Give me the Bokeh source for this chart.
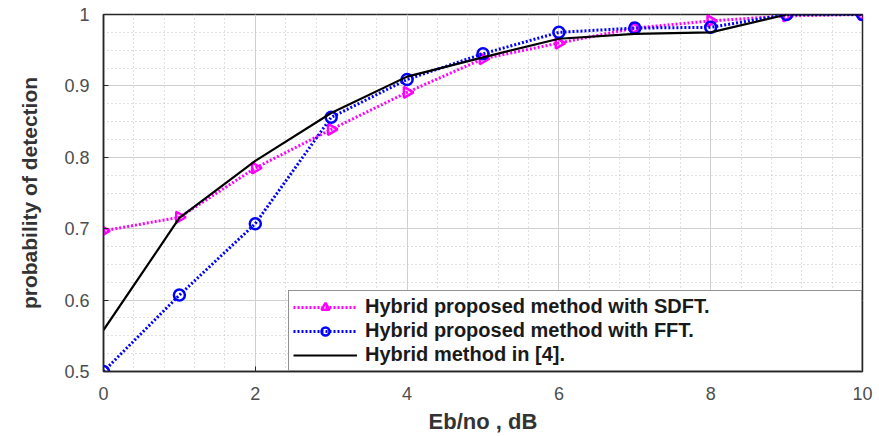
import math
from bokeh.plotting import figure
from bokeh.models import SingleIntervalTicker, CustomJSTickFormatter, Legend, LegendItem, Range1d
from bokeh.embed import file_html
from bokeh.resources import INLINE

ebno = [0, 1, 2, 3, 4, 5, 6, 7, 8, 9, 10]
pd_sdft = [0.697, 0.716, 0.785, 0.839, 0.891, 0.938, 0.960, 0.981, 0.991, 0.998, 1.0]
pd_fft = [0.500, 0.607, 0.707, 0.856, 0.909, 0.945, 0.975, 0.981, 0.982, 1.0, 1.0]
pd_ref = [0.558, 0.715, 0.795, 0.862, 0.913, 0.940, 0.966, 0.973, 0.975, 1.0, 1.0]
labels = ["Hybrid proposed method with SDFT.", "Hybrid proposed method with FFT.", "Hybrid method in [4]."]

p = figure(width=879, height=436, output_backend="svg", toolbar_location=None,
           x_range=Range1d(0, 10), y_range=Range1d(0.5, 1.0),
           min_border_left=103, min_border_right=17, min_border_top=14, min_border_bottom=60)
p.background_fill_color = "white"
p.border_fill_color = "white"
p.outline_line_color = "#262626"
p.outline_line_width = 1.5

xax = p.xaxis[0]
yax = p.yaxis[0]
xax.ticker = SingleIntervalTicker(interval=2, num_minor_ticks=5)
yax.ticker = SingleIntervalTicker(interval=0.1, num_minor_ticks=4)
yax.formatter = CustomJSTickFormatter(code="return tick.toFixed(1).replace(/\\.0$/, '')")

for ax in (xax, yax):
    ax.major_tick_in = 5
    ax.major_tick_out = 0
    ax.minor_tick_in = 0
    ax.minor_tick_out = 0
    ax.axis_line_color = "#262626"
    ax.axis_line_width = 1.5
    ax.major_tick_line_color = "#262626"
    ax.major_label_text_font = "Liberation Sans"
    ax.major_label_text_font_size = "18px"
    ax.major_label_text_color = "#4d4d4d"
    ax.axis_label_text_font = "Liberation Sans"
    ax.axis_label_text_font_style = "bold"
    ax.axis_label_text_color = "#333333"
xax.axis_label = "Eb/no , dB"
yax.axis_label = "probability of detection"
xax.axis_label_text_font_size = "22px"
yax.axis_label_text_font_size = "21px"
xax.major_label_standoff = 15
yax.major_label_standoff = 14
xax.axis_label_standoff = 6
yax.axis_label_standoff = 20

for g in (p.xgrid[0], p.ygrid[0]):
    g.grid_line_color = "#d0d0d0"
    g.grid_line_width = 1
    g.minor_grid_line_color = "#c0c0c0"
    g.minor_grid_line_dash = "1 3"
    g.minor_grid_line_width = 1

r1 = p.line(ebno, pd_sdft, line_color="#ff00ff", line_width=3, line_dash="2 2")
m1 = p.scatter(ebno, pd_sdft, marker="triangle", angle=-math.pi / 2, size=11,
               line_color="#ff00ff", line_width=2.5, fill_color=None)
r2 = p.line(ebno, pd_fft, line_color="#0000ff", line_width=3, line_dash="2 2")
m2 = p.scatter(ebno, pd_fft, marker="circle", size=11,
               line_color="#0000ff", line_width=2.5, fill_color=None)
r3 = p.line(ebno, pd_ref, line_color="black", line_width=2.2)

legend = Legend(items=[LegendItem(label=labels[0], renderers=[r1, m1]),
                       LegendItem(label=labels[1], renderers=[r2, m2]),
                       LegendItem(label=labels[2], renderers=[r3])],
                location="bottom_right")
legend.label_text_font = "Liberation Sans"
legend.label_text_font_style = "bold"
legend.label_text_font_size = "20px"
legend.label_text_color = "#1a1a1a"
legend.glyph_width = 64
legend.glyph_height = 20
legend.label_height = 20
legend.label_width = 492
legend.spacing = 1
legend.padding = 4
legend.margin = 0
legend.border_line_color = "#262626"
legend.border_line_width = 1.5
legend.background_fill_alpha = 1
legend.label_standoff = 8
p.add_layout(legend, "center")

open("out.html", "w").write(file_html(p, INLINE))
